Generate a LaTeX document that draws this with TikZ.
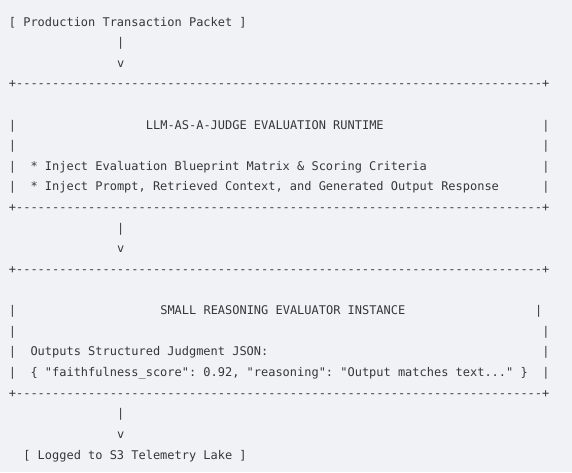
\documentclass[tikz,border=0pt]{standalone}
\usepackage{fontspec}
\setmonofont{DejaVu Sans Mono}

\definecolor{bgcol}{RGB}{241,242,246}
\definecolor{inkcol}{RGB}{55,55,55}

% one box edge: + then 73 dashes then +
\newcommand{\tendash}{----------}
\newcommand{\boxedge}{+\tendash\tendash\tendash\tendash\tendash\tendash\tendash---+}

\begin{document}
\begin{tikzpicture}[x=7.21pt, y=-20.62pt,
  asc/.style={anchor=base west, inner sep=0pt, text=inkcol,
    font=\ttfamily\fontsize{11.97pt}{14pt}\selectfont}]
% Background
\fill[bgcol] (-8.7pt, 26pt) rectangle (563.3pt, -446pt);

% Source packet
\node[asc] (packet) at (0,0) {[ Production Transaction Packet ]};
\node[asc] (stemA) at (15,1) {|};
\node[asc] (tipA) at (15,2) {v};

% Judge runtime box
\node[asc] (judgeTop) at (0,3) {\boxedge};
\foreach \r in {5,...,8} {
  \node[asc] (judgeL\r) at (0,\r) {|};
  \node[asc] (judgeR\r) at (74,\r) {|};
}
\node[asc] (judgeTitle) at (19,5) {LLM-AS-A-JUDGE EVALUATION RUNTIME};
\node[asc] (injectA) at (3,7) {* Inject Evaluation Blueprint Matrix \& Scoring Criteria};
\node[asc] (injectB) at (3,8) {* Inject Prompt, Retrieved Context, and Generated Output Response};
\node[asc] (judgeBot) at (0,9) {\boxedge};

\node[asc] (stemB) at (15,10) {|};
\node[asc] (tipB) at (15,11) {v};

% Evaluator box
\node[asc] (evalTop) at (0,12) {\boxedge};
\foreach \r in {14,...,17} {\node[asc] (evalL\r) at (0,\r) {|};}
\node[asc] (evalR14) at (73,14) {|};
\foreach \r in {15,16,17} {\node[asc] (evalR\r) at (74,\r) {|};}
\node[asc] (evalTitle) at (21,14) {SMALL REASONING EVALUATOR INSTANCE};
\node[asc] (outHead) at (3,16) {Outputs Structured Judgment JSON:};
\node[asc] (outJson) at (3,17) {\{ "faithfulness\_score": 0.92, "reasoning": "Output matches text..." \}};
\node[asc] (evalBot) at (0,18) {\boxedge};

% Sink
\node[asc] (stemC) at (15,19) {|};
\node[asc] (tipC) at (15,20) {v};
\node[asc] (lake) at (2,21) {[ Logged to S3 Telemetry Lake ]};
\end{tikzpicture}
\end{document}
